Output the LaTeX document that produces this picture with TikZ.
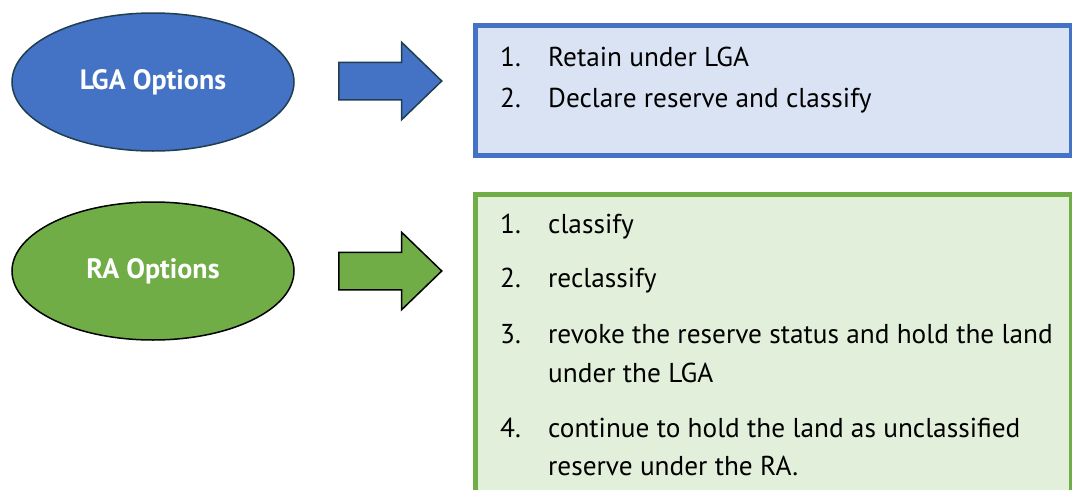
\documentclass[tikz,border=0pt]{standalone}
\usepackage{fontspec}
\setmainfont{PT Sans}
\usetikzlibrary{shapes.geometric, shapes.arrows, positioning}
\definecolor{lgablue}{HTML}{4472C4}
\definecolor{lgaedge}{HTML}{1F3F50}
\definecolor{lgapale}{HTML}{DAE3F3}
\definecolor{ragreen}{HTML}{70AD47}
\definecolor{rapale}{HTML}{E2EFDA}

\begin{document}
\begin{tikzpicture}[x=1pt,y=-1pt,
    option/.style={ellipse, draw, line width=1.5pt, minimum width=282pt, minimum height=138pt,
      text=white, font=\bfseries\fontsize{28}{32}\selectfont},
    blockarrow/.style={single arrow, draw, line width=1.5pt, inner xsep=0pt, inner ysep=18pt,
      minimum height=103pt, single arrow head extend=20pt, single arrow tip angle=88, anchor=tail},
    listbox/.style={draw, line width=4.5pt, anchor=north west, minimum width=596pt},
    item/.style={anchor=base west, inner sep=0pt, font=\fontsize{27.3}{31}\selectfont}]
  \useasboundingbox (0,0) rectangle (1072,490);
  \clip (0,0) rectangle (1072,490);

  % LGA row
  \node[option, fill=lgablue, draw=lgaedge] (lga) at (153,82) {LGA Options};
  \node[blockarrow, fill=lgablue, draw=lgaedge] (lgaarrow) at (338,81) {};
  \node[listbox, fill=lgapale, draw=lgablue, minimum height=130pt] (lgabox) at (473,23) {};
  \node[item] (lga1n) at (500,66) {1.};
  \node[item] (lga1) at (548,66) {Retain under LGA};
  \node[item] (lga2n) at (500,107) {2.};
  \node[item] (lga2) at (548,107) {Declare reserve and classify};

  % RA row
  \node[option, fill=ragreen, draw=black] (ra) at (153,271) {RA Options};
  \node[blockarrow, fill=ragreen, draw=black] (raarrow) at (338,271) {};
  \node[listbox, fill=rapale, draw=ragreen, minimum height=340pt] (rabox) at (473,192) {};
  \node[item] (ra1n) at (500,233) {1.};
  \node[item] (ra1) at (548,233) {classify};
  \node[item] (ra2n) at (500,287) {2.};
  \node[item] (ra2) at (548,287) {reclassify};
  \node[item] (ra3n) at (500,343) {3.};
  \node[item] (ra3) at (548,343) {revoke the reserve status and hold the land};
  \node[item] (ra3b) at (548,382) {under the LGA};
  \node[item] (ra4n) at (500,437) {4.};
  \node[item] (ra4) at (548,437) {continue to hold the land as unclassified};
  \node[item] (ra4b) at (548,475) {reserve under the RA.};
\end{tikzpicture}
\end{document}
